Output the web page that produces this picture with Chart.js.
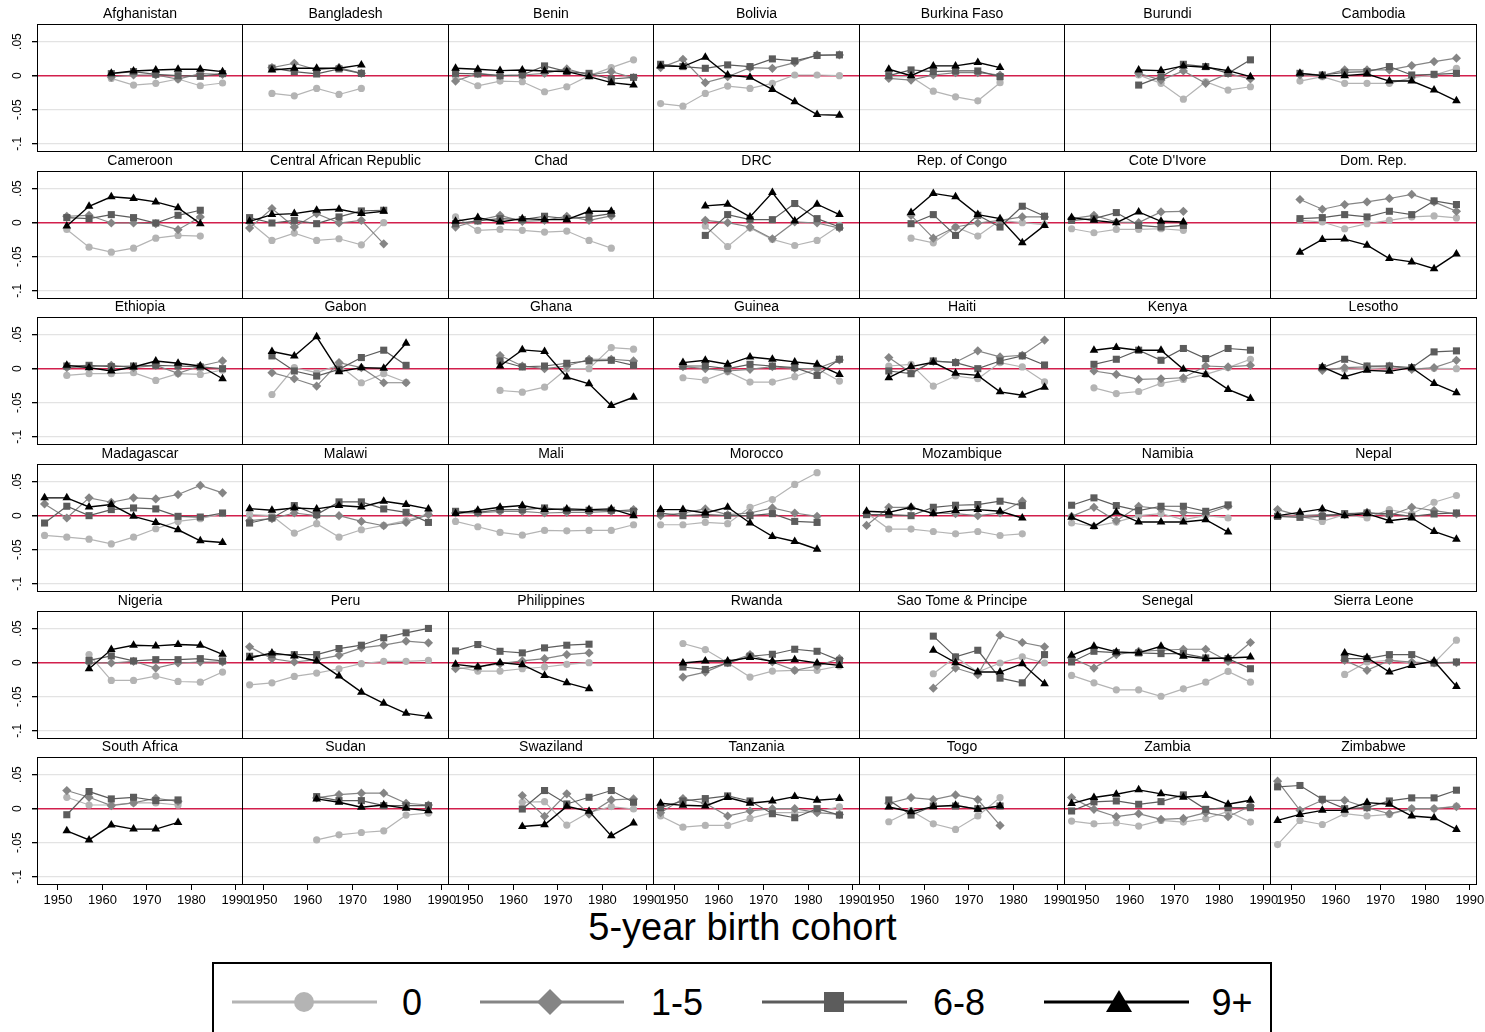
<!DOCTYPE html>
<html>
<head>
<meta charset="utf-8">
<script src="https://cdn.jsdelivr.net/npm/chart.js@4.4.0/dist/chart.umd.min.js"></script>
<style>
  body { margin: 0; background: #fff; font-family: 'Liberation Sans', Arial, sans-serif; }
  #wrap { position: relative; width: 1485px; height: 1032px; overflow: hidden; }
  #wrap canvas { position: absolute; }
  #xtitle { position: absolute; left: 0; width: 1485px; top: 908px; line-height: 38px;
            text-align: center; font-size: 38px; color: #000; }
  #legend { position: absolute; left: 212px; top: 962px; width: 1060px; height: 100px;
            border: 2px solid #000; box-sizing: border-box; }
  #legend svg { position: absolute; left: 0; top: 0; }
</style>
</head>
<body>
<div id="wrap">
  <div id="xtitle">5-year birth cohort</div>
  <div id="legend">
    <svg width="1060" height="80">
      <g font-family="Liberation Sans, Arial, sans-serif" font-size="36" fill="#000">
        <line x1="18" y1="38" x2="163" y2="38" stroke="#b4b4b4" stroke-width="3"/>
        <circle cx="90" cy="38" r="10" fill="#b4b4b4"/>
        <text x="198" y="51" text-anchor="middle">0</text>

        <line x1="266" y1="38" x2="410" y2="38" stroke="#858585" stroke-width="3"/>
        <polygon points="336,25 349,38 336,51 323,38" fill="#858585"/>
        <text x="463" y="51" text-anchor="middle">1-5</text>

        <line x1="548" y1="38" x2="693" y2="38" stroke="#5c5c5c" stroke-width="3"/>
        <rect x="610" y="28" width="20" height="20" fill="#5c5c5c"/>
        <text x="745" y="51" text-anchor="middle">6-8</text>

        <line x1="830" y1="38" x2="975" y2="38" stroke="#000" stroke-width="3"/>
        <polygon points="905,26 918,48 892,48" fill="#000"/>
        <text x="1018" y="51" text-anchor="middle">9+</text>
      </g>
    </svg>
  </div>
</div>
<script>
// panels, in reading order
const countries = [
  'Afghanistan', 'Bangladesh', 'Benin', 'Bolivia', 'Burkina Faso', 'Burundi', 'Cambodia',
  'Cameroon', 'Central African Republic', 'Chad', 'DRC', 'Rep. of Congo', "Cote D'Ivore", 'Dom. Rep.',
  'Ethiopia', 'Gabon', 'Ghana', 'Guinea', 'Haiti', 'Kenya', 'Lesotho',
  'Madagascar', 'Malawi', 'Mali', 'Morocco', 'Mozambique', 'Namibia', 'Nepal',
  'Nigeria', 'Peru', 'Philippines', 'Rwanda', 'Sao Tome & Principe', 'Senegal', 'Sierra Leone',
  'South Africa', 'Sudan', 'Swaziland', 'Tanzania', 'Togo', 'Zambia', 'Zimbabwe'
];

// 5-year birth cohorts (x values)
const cohorts = [1947, 1952, 1957, 1962, 1967, 1972, 1977, 1982, 1987];

const xTicks = [1950, 1960, 1970, 1980, 1990];
const yTicks = [-0.1, -0.05, 0, 0.05];
const yTickLabels = ['-.1', '-.05', '0', '.05'];
const seriesNames = ['0', '1-5', '6-8', '9+'];

const n = null;

// years of schooling: 0
const eduNone = [
  [n,n,n,-.004,-.0138,-.0113,-.0049,-.0148,-.0108],
  [n,-.026,-.0296,-.0187,-.0276,-.0187,n,n,n],
  [-.0015,-.0148,-.0079,-.0089,-.0236,-.0163,0,.0118,.0232],
  [-.0409,-.0448,-.0261,-.0153,-.0187,-.0113,.001,.001,0],
  [n,-.0015,-.0015,-.0227,-.031,-.0369,-.0103,n,n],
  [n,n,n,.001,-.0113,-.0345,-.0089,-.0212,-.0163],
  [n,-.0079,-.0015,-.0113,-.0113,-.0113,-.003,.001,.0108],
  [n,-.0099,-.036,-.0433,-.0374,-.0227,-.0187,-.0197,n],
  [.001,-.0261,-.0153,-.0261,-.0236,-.0325,0,n,n],
  [.0084,-.0113,-.0099,-.0113,-.0138,-.0123,-.0261,-.0374,n],
  [n,n,-.0049,-.035,-.0079,-.0246,-.0335,-.0261,-.004],
  [n,n,-.0227,-.0296,-.0064,-.0197,.0034,0,-.003],
  [-.0089,-.0148,-.0099,-.0099,-.0089,-.0113,n,n,n],
  [n,.0034,.001,-.0089,-.0015,.0034,.0084,.0099,.0069],
  [n,-.0099,-.0074,-.0074,-.0059,-.0172,-.0074,-.0084,-.002],
  [n,-.0379,.0015,-.0059,.005,-.0207,-.0074,-.02,n],
  [n,n,-.032,-.0345,-.0271,0,0,.031,.0286],
  [n,-.0133,-.0167,-.0044,-.0197,-.0197,-.0118,0,-.0182],
  [n,.0039,.0064,-.0256,-.0108,-.0148,.0089,.0025,-.0192],
  [n,-.0281,-.0365,-.0335,-.0217,-.0158,-.0084,.0015,.0138],
  [n,n,0,-.001,0,.0015,0,.0005,0],
  [-.029,-.0315,-.0345,-.0414,-.0315,-.0192,-.0084,-.0044,.003],
  [.0015,0,-.0256,-.0118,-.0315,-.0207,-.0143,-.0074,.003],
  [-.0084,-.0163,-.0246,-.0286,-.0217,-.0222,-.0217,-.0217,-.0133],
  [-.0133,-.0133,-.0099,-.0118,.0123,.0236,.0458,.0631,n],
  [.0039,-.0197,-.0197,-.0232,-.0266,-.0232,-.0291,-.0266,n],
  [-.0108,-.0158,-.0094,0,.003,-.0059,0,-.0034,n],
  [0,-.001,-.0084,.0015,-.0034,.0089,.0025,.0197,.0296],
  [n,n,.0118,-.0261,-.0261,-.0197,-.0276,-.0286,-.0138],
  [-.0325,-.0296,-.0202,-.0153,-.0089,-.0015,.002,.002,.0034],
  [-.0064,-.0123,-.0123,-.0089,-.0064,-.0025,0,n,n],
  [n,.0281,.0192,0,-.0212,-.0123,-.0113,-.0113,-.0049],
  [n,n,n,-.0163,.0084,-.0138,-.0005,.0084,-.0005],
  [-.0187,-.0296,-.0399,-.0399,-.0493,-.0384,-.0286,-.0128,-.0286],
  [n,n,n,-.0172,.001,.0034,-.0005,-.0005,.033],
  [n,.0167,.0054,.0054,.0084,.0084,.0054,n,n],
  [n,n,n,-.0458,-.0384,-.035,-.0325,-.0094,-.0064],
  [n,n,n,.0094,.0103,-.0241,-.0054,.003,-.0005],
  [-.0108,-.0271,-.0246,-.0246,-.0143,-.0059,-.0059,-.0044,.0025],
  [n,-.0192,-.003,-.0222,-.0305,-.0108,.0163,n,n],
  [-.0182,-.0222,-.0207,-.0256,-.0172,-.0197,-.0148,-.004,-.0197],
  [-.0527,-.0172,-.0232,-.0074,-.0108,-.0084,0,0,.0039]
];

// years of schooling: 1-5
const eduPrimary = [
  [n,n,n,-.002,.001,.001,-.005,.003,.002],
  [n,.0118,.0182,.0084,.0118,.0034,n,n,n],
  [-.0079,.0034,0,.001,.0034,.0099,.001,.0059,-.003],
  [.0118,.0241,-.0103,-.0015,.0118,.0108,.0192,.0305,.0305],
  [n,-.004,-.0064,.001,.0044,.0044,.001,n,n],
  [n,n,n,.0034,-.0064,.0069,-.0113,.0034,-.0049],
  [n,.001,0,.0084,.0084,.0084,.0148,.0207,.0256],
  [n,.0094,.0108,-.0005,-.0005,-.0015,-.0103,.0084,n],
  [-.0079,.0207,-.0064,.0133,-.0005,.0034,-.031,n,n],
  [-.0064,.0034,.0108,.002,.0034,.0094,.0034,.0099,n],
  [n,n,.0034,0,-.0064,-.0236,.001,-.0005,-.0079],
  [n,n,.0108,-.0227,-.0064,-.0005,.0034,.0084,.0084],
  [.0059,.0108,.001,0,.0158,.0167,n,n,n],
  [n,.034,.0197,.0266,.0305,.0355,.0414,.0305,.0167],
  [n,.0015,.003,.0049,.0015,.0049,-.0069,.0039,.0113],
  [n,-.0059,-.0148,-.0256,.0089,.0015,-.0207,-.0207,n],
  [n,n,.0192,.0039,0,.0039,.0138,.0138,.0113],
  [n,.003,0,-.0034,-.001,.003,0,0,.0128],
  [n,.0163,-.0059,.0108,.0094,.0261,.0172,.0197,.0419],
  [n,-.0034,-.0084,-.0158,-.0148,-.0133,.0039,.0025,.0049],
  [n,n,-.0025,.0015,.0025,.0039,-.001,.0015,.0123],
  [.0172,-.0034,.0261,.0197,.0261,.0246,.031,.0443,.0335],
  [-.0074,-.0044,.0039,0,0,-.0084,-.0148,-.0099,.0015],
  [.0039,.0039,.0064,.0064,.0039,.0049,.0049,.0064,.0089],
  [0,.0039,.0099,.0015,.0039,.0113,.0039,-.001,n],
  [-.0143,.0123,.0123,.0039,.003,0,.0039,.0212,n],
  [-.001,.0123,-.0074,.0138,.0099,.0049,.0025,.0138,n],
  [.0089,0,.0015,.0015,.0049,0,.0123,.0074,.0025],
  [n,n,0,-.0005,.002,-.0079,-.0005,.001,.001],
  [.0232,.0059,.001,.0044,.0108,.0217,.0256,.0315,.0291],
  [-.0089,-.0064,-.0015,.0025,.0059,.0118,.0143,n,n],
  [n,-.0212,-.0138,0,.0118,.001,-.0113,-.0049,.0059],
  [n,n,n,-.0374,-.0079,-.0177,.0404,.0296,.0232],
  [.0069,-.0079,.0118,.0167,.0182,.0197,.0197,.002,.0296],
  [n,n,n,.0034,-.0113,.0034,.001,-.0005,0],
  [n,.0266,.0167,.0044,.0084,.0153,.0108,n,n],
  [n,n,n,.0158,.0207,.0227,.0227,.0079,.0054],
  [n,n,n,.0192,-.0113,.0217,-.0079,.0128,.0143],
  [-.0059,.0148,.0079,-.0108,-.0034,0,0,-.0059,-.0084],
  [n,.0079,.0163,.0133,.0202,.0133,-.0246,n,n],
  [.0163,-.001,-.0118,-.0074,-.0158,-.0143,-.0059,-.0118,.0039],
  [.0404,-.0025,.0123,.0123,.0015,-.0074,0,0,.003]
];

// years of schooling: 6-8
const eduMiddle = [
  [n,n,n,.003,.006,.002,0,-.001,.003],
  [n,.011,.006,.0025,.0099,.0034,n,n,n],
  [.0034,.0025,0,.001,.0143,.0059,.0034,-.0049,-.0025],
  [.0167,.0133,.0108,.0158,.0133,.0246,.0217,.0296,.0305],
  [n,0,.0084,.0059,.0069,.0069,-.0015,n,n],
  [n,n,n,-.0138,-.0015,.0167,.0133,.0034,.0232],
  [n,.0034,.001,.0049,.0059,.0133,.001,.002,.0034],
  [n,.0074,.0059,.0118,.0074,-.0005,.0108,.0182,n],
  [.0074,-.0005,.0034,-.0015,.0084,.0172,.0182,n,n],
  [-.0015,.0025,.0059,.0044,.0094,.0059,.0084,.0133,n],
  [n,n,-.0187,.0118,.0044,.0044,.0281,.0059,-.0064],
  [n,n,-.0015,.0118,-.0187,.0108,-.0064,.0241,.0094],
  [.0034,.0059,.0148,-.004,-.0064,-.004,n,n,n],
  [n,.0059,.0074,.0118,.0084,.0167,.0118,.032,.0266],
  [n,.0039,.0049,.003,.0039,.0049,.0039,.0025,0],
  [n,.0187,-.0034,-.0108,-.001,.0163,.0271,.0049,n],
  [n,n,.0113,.0025,.0039,.0079,.0113,.0123,.0049],
  [n,.0039,.0039,0,.0064,.0039,.0015,-.0099,.0138],
  [n,-.0034,-.0074,.0113,.0089,0,.0113,.0187,.0054],
  [n,.0064,.0138,.0271,.0123,.0296,.0148,.0296,.0271],
  [n,n,.0015,.0138,.0039,.0039,.0015,.0246,.0261],
  [-.0108,.0138,0,.0089,.0113,.0099,-.001,-.002,.0039],
  [-.0108,-.0034,.0148,.0015,.0202,.0202,.0099,.0049,-.0099],
  [.0064,.0049,.0089,.0089,.0113,.0079,.0079,.0079,.0064],
  [.0039,0,.0015,0,0,.003,-.0084,-.0099,n],
  [.0015,.0015,0,.0123,.0153,.0163,.0212,.0148,n],
  [.0153,.0261,.0148,.0074,.0138,.0138,.0064,.0158,n],
  [-.001,-.0025,-.001,.003,.0039,.003,-.001,.0025,.0039],
  [n,n,.0034,.0099,.0025,.0044,.0044,.0059,.0025],
  [.0094,.0118,.0118,.0118,.0207,.0256,.0365,.0438,.0502],
  [.0172,.0266,.0167,.0143,.0217,.0256,.0271,n,n],
  [n,-.0064,-.0099,-.0005,.0094,.0123,.0197,.0167,.0034],
  [n,n,n,.0389,.0084,.0182,-.0227,-.0296,.0118],
  [.001,.0167,.0148,.0143,.0133,.0133,.0069,.0059,-.0089],
  [n,n,n,.0059,.0059,.0118,.0118,-.0005,.001],
  [n,-.0089,.0251,.0143,.0167,.0118,.0128,n,n],
  [n,n,n,.0177,.0118,.0118,.0044,.0044,.0044],
  [n,n,n,-.0005,.0266,.0069,.0167,.0266,.0094],
  [.0015,.0113,.0148,.0187,.0113,-.0074,-.0133,0,-.0094],
  [n,.0128,-.0094,.0039,.0039,0,.0039,n,n],
  [-.0034,.0099,.0113,.0064,.0103,.0202,-.001,.0015,.0015],
  [.032,.034,.0138,0,.0015,.0113,.0158,.0158,.0271]
];

// years of schooling: 9+
const eduHigh = [
  [n,n,n,.0034,.0069,.0084,.0094,.0094,.0059],
  [n,.0084,.0108,.0108,.0108,.0158,n,n,n],
  [.0108,.0094,.0074,.0084,.0069,.0059,-.0015,-.0103,-.0138],
  [.0143,.0133,.0271,.001,-.0025,-.0202,-.0384,-.0571,-.0581],
  [n,.0094,0,.0143,.0143,.0192,.0118,n,n],
  [n,n,n,.0084,.0074,.0143,.0123,.0074,-.0015],
  [n,.0034,0,0,.0025,-.0079,-.0079,-.0212,-.0369],
  [n,-.0049,.0241,.0379,.0355,.0305,.0217,-.0015,n],
  [.002,.0118,.0133,.0182,.0197,.0133,.0167,n,n],
  [.002,.0074,.001,.0059,.0044,.0044,.0167,.0167,n],
  [n,n,.0246,.0271,.0084,.0443,.0025,.0271,.0118],
  [n,n,.0148,.0429,.0379,.0118,.0059,-.0296,-.004],
  [.0074,.0034,0,.0158,.002,.001,n,n,n],
  [n,-.0433,-.0246,-.0241,-.033,-.0527,-.0576,-.0675,-.0458],
  [n,.0049,.0015,-.0034,.0025,.0113,.0079,.0039,-.0148],
  [n,.0251,.0187,.0468,-.0044,.0015,.0005,.0374,n],
  [n,n,.0039,.0276,.0251,-.0123,-.0222,-.0542,-.0419],
  [n,.0089,.0123,.0064,.0172,.0138,.0099,.0064,-.0084],
  [n,-.0133,.003,.0094,-.0069,-.0099,-.034,-.0389,-.0271],
  [n,.0271,.031,.0271,.0271,-.001,-.0084,-.0305,-.0438],
  [n,n,.0025,-.0118,-.0025,-.0039,.0015,-.0217,-.0355],
  [.0261,.0261,.0128,.0163,-.001,-.0099,-.0207,-.0369,-.0394],
  [.0103,.0079,.0113,.0099,.0148,.0128,.0212,.0163,.0099],
  [.003,.0079,.0123,.0148,.0089,.0099,.0089,.0099,0],
  [.0089,.0089,.0039,.0123,-.0108,-.0305,-.0379,-.0493,n],
  [.0064,.0049,.0123,.003,.0074,.0089,.0064,-.0034,n],
  [-.0025,-.0158,.0049,-.0094,-.0094,-.0094,-.0059,-.0241,n],
  [0,.0049,.0099,0,.003,-.0074,-.0034,-.0232,-.0345],
  [n,n,-.0089,.0192,.0256,.0246,.0266,.0256,.0123],
  [.0069,.0143,.0099,.0025,-.0197,-.0433,-.0596,-.0744,-.0788],
  [-.0025,-.0064,0,-.003,-.0187,-.0296,-.0384,n,n],
  [n,-.0005,.0025,.0025,.0074,.002,.0044,-.0005,-.004],
  [n,n,n,.0182,0,-.0138,-.0138,-.0015,-.031],
  [.0108,.0241,.0158,.0143,.0241,.0094,.0059,.0069,.0084],
  [n,n,n,.0143,.0074,-.0138,-.004,.0025,-.035],
  [n,-.0325,-.0458,-.0241,-.03,-.03,-.0202,n,n],
  [n,n,n,.0143,.0094,.002,.0054,.0005,-.003],
  [n,n,n,-.0261,-.0236,.0034,-.0039,-.0399,-.0212],
  [.0079,.0049,.0039,.0163,.0079,.0113,.0177,.0123,.0148],
  [n,.0025,-.0044,.003,.0049,-.001,.0039,n,n],
  [.0074,.0163,.0212,.0276,.0217,.0167,.0192,.0064,.0123],
  [-.0172,-.0084,-.0025,-.0025,.0089,.0064,-.0108,-.0133,-.0305]
];

// layout of the 7 x 6 grid of panels
const colLeft = [37, 242, 448, 653, 859, 1064, 1270, 1476];
const rowTop = [24, 171, 317, 464, 611, 757];
const plotH = 128, titleH = 19, xAxisH = 32, yAxisW = 37, padR = 22;

const styles = [
  { color: '#b4b4b4', point: 'circle', radius: 3.6, width: 1.2 },
  { color: '#858585', point: 'rectRot', radius: 4.6, width: 1.2 },
  { color: '#5c5c5c', point: 'rect', radius: 5, width: 1.2 },
  { color: '#000000', point: 'triangle', radius: 5, width: 1.4 }
];

Chart.defaults.font.family = "'Liberation Sans', Arial, sans-serif";
Chart.defaults.color = '#000';

// black box around each plot region
const frame = {
  id: 'frame',
  afterDatasetsDraw(chart) {
    const { ctx, chartArea: a } = chart;
    ctx.save();
    ctx.strokeStyle = '#000';
    ctx.lineWidth = 1;
    ctx.strokeRect(a.left + 0.5, a.top + 0.5, a.right - a.left - 1, a.bottom - a.top - 1);
    ctx.restore();
  }
};

// stop tick labels from shrinking the plot region
function noPad(s) {
  s.paddingTop = 0; s.paddingBottom = 0; s.paddingLeft = 0; s.paddingRight = 0;
}

const wrap = document.getElementById('wrap');
const allSeries = [eduNone, eduPrimary, eduMiddle, eduHigh];

countries.forEach((name, k) => {
  const r = Math.floor(k / 7), c = k % 7;
  const firstCol = c === 0, lastRow = r === 5;

  const canvas = document.createElement('canvas');
  const w = (firstCol ? yAxisW : 0) + (colLeft[c + 1] - colLeft[c] + 1) + padR;
  const h = titleH + plotH + (lastRow ? xAxisH : 0);
  canvas.width = w; canvas.height = h;
  canvas.style.left = (firstCol ? 0 : colLeft[c]) + 'px';
  canvas.style.top = (rowTop[r] - titleH) + 'px';
  canvas.style.width = w + 'px'; canvas.style.height = h + 'px';
  wrap.appendChild(canvas);

  // 9+ drawn on top, 0 at the bottom
  const datasets = allSeries.map((series, s) => ({
    label: seriesNames[s],
    data: cohorts.map((x, i) => ({ x: x, y: series[k][i] })),
    borderColor: styles[s].color,
    backgroundColor: styles[s].color,
    borderWidth: styles[s].width,
    pointStyle: styles[s].point,
    pointRadius: styles[s].radius,
    pointBorderWidth: 0,
    pointBackgroundColor: styles[s].color,
    tension: 0,
    order: 3 - s
  }));

  new Chart(canvas, {
    type: 'line',
    data: { datasets: datasets },
    plugins: [frame],
    options: {
      responsive: false,
      animation: false,
      events: [],
      layout: { padding: { right: padR }, autoPadding: false },
      plugins: {
        legend: { display: false },
        tooltip: { enabled: false },
        title: {
          display: true,
          text: name,
          fullSize: false,
          font: { size: 14, weight: 'normal', lineHeight: 1.2 },
          color: '#000',
          padding: { top: 1, bottom: 1.2 }
        }
      },
      scales: {
        x: {
          type: 'linear',
          min: 1945.3,
          max: 1991.6,
          display: lastRow,
          afterBuildTicks: (s) => { s.ticks = xTicks.map(v => ({ value: v })); },
          afterFit: (s) => { s.height = lastRow ? xAxisH : 0; noPad(s); },
          border: { display: false },
          grid: { drawOnChartArea: false, drawTicks: true, tickLength: 5, tickColor: '#000' },
          ticks: {
            autoSkip: false, maxRotation: 0, minRotation: 0, padding: 3,
            font: { size: 13 }, color: '#000',
            callback: (v) => String(v)
          }
        },
        y: {
          type: 'linear',
          min: -0.112,
          max: 0.0758,
          afterBuildTicks: (s) => { s.ticks = yTicks.map(v => ({ value: v })); },
          afterFit: (s) => { s.width = firstCol ? yAxisW : 0; noPad(s); },
          border: { display: false },
          grid: {
            color: (ctx) => (ctx.tick && ctx.tick.value === 0) ? '#d21f4c' : '#e3e3e3',
            lineWidth: (ctx) => (ctx.tick && ctx.tick.value === 0) ? 1.5 : 1.3,
            drawTicks: firstCol,
            tickLength: 5,
            tickColor: '#000'
          },
          ticks: {
            display: firstCol,
            minRotation: 90,
            maxRotation: 90,
            crossAlign: 'center',
            padding: 4,
            font: { size: 12 },
            color: '#000',
            callback: (v) => yTickLabels[yTicks.indexOf(v)]
          }
        }
      }
    }
  });
});
</script>
</body>
</html>
